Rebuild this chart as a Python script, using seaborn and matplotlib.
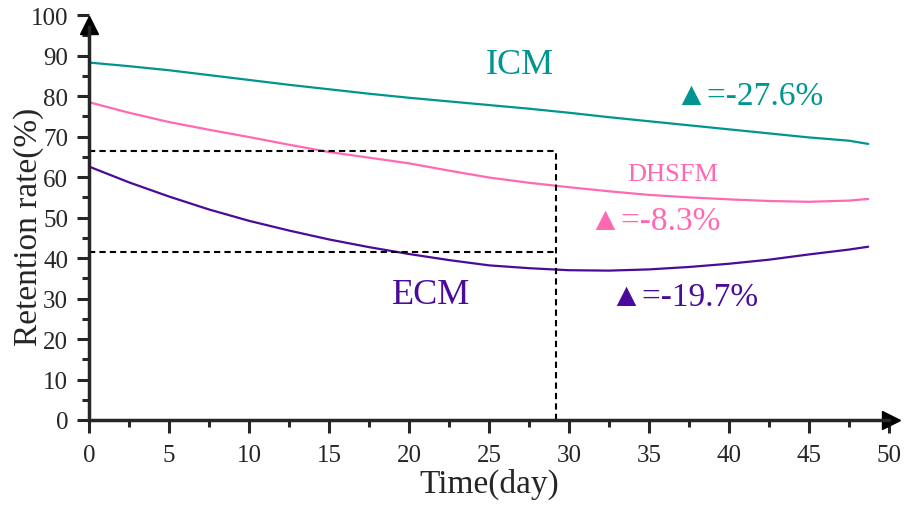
import seaborn as sns
import matplotlib.pyplot as plt

# data
days = [0, 2.5, 5, 7.5, 10, 12.5, 15, 17.5, 20, 22.5, 25, 27.5, 30, 32.5, 35,
        37.5, 40, 42.5, 45, 47.5, 48.7]
icm = [88.3, 87.4, 86.4, 85.2, 84.0, 82.8, 81.7, 80.6, 79.6, 78.7, 77.8, 76.9,
       75.9, 74.8, 73.8, 72.8, 71.8, 70.8, 69.8, 69.0, 68.2]
dhsfm = [78.5, 75.9, 73.6, 71.7, 69.9, 68.0, 66.2, 64.8, 63.4, 61.6, 59.9, 58.6,
         57.5, 56.5, 55.6, 55.0, 54.5, 54.1, 53.9, 54.2, 54.6]
ecm = [62.6, 58.7, 55.2, 52.0, 49.2, 46.8, 44.6, 42.7, 41.0, 39.5, 38.2, 37.5,
       37.0, 36.9, 37.2, 37.8, 38.6, 39.6, 40.9, 42.1, 42.8]

day_mark = 29.2
level_high = 66.5
level_low = 41.5

teal = "#00968f"
pink = "#ff69b4"
purple = "#4a0b9a"

sns.set_style("ticks")
plt.rcParams['font.family'] = ['Liberation Serif', 'DejaVu Sans']

fig = plt.figure(figsize=(9.09, 5.06), dpi=100)
ax = fig.add_axes([0.098, 0.168, 0.88, 0.8])

sns.lineplot(x=days, y=icm, color=teal, lw=1.6, ax=ax)
sns.lineplot(x=days, y=dhsfm, color=pink, lw=1.6, ax=ax)
sns.lineplot(x=days, y=ecm, color=purple, lw=1.6, ax=ax)

# dashed guide lines
ax.plot([0, day_mark], [level_high, level_high], "k--", lw=1.5, dashes=(3, 2))
ax.plot([0, day_mark], [level_low, level_low], "k--", lw=1.5, dashes=(3, 2))
ax.plot([day_mark, day_mark], [0, level_high], "k--", lw=1.5, dashes=(3, 2))

ax.set_xlim(0, 50)
ax.set_ylim(0, 100)
ax.set_xticks(range(0, 51, 5))
ax.set_xticks([2.5 + 5 * i for i in range(10)], minor=True)
ax.set_yticks(range(0, 101, 10))
ax.set_yticks([5 + 10 * i for i in range(10)], minor=True)
ax.tick_params(axis="both", which="major", labelsize=18, length=9, width=2.2, direction="out", pad=6)
ax.tick_params(axis="both", which="minor", length=5, width=2.2, direction="out")
ax.tick_params(axis="x", pad=8)

for s in ["top", "right"]:
    ax.spines[s].set_visible(False)
for s in ["left", "bottom"]:
    ax.spines[s].set_linewidth(2.5)
ax.spines["left"].set_bounds(0, 97)

# arrow heads
ax.plot(1.003, 0, ">k", ms=13, transform=ax.get_yaxis_transform(), clip_on=False)
ax.plot(0, 0.975, "^k", ms=13, transform=ax.get_xaxis_transform(), clip_on=False)

ax.set_xlabel("Time(day)", fontsize=24)
ax.set_ylabel("Retention rate(%)", fontsize=24)
ax.xaxis.set_label_coords(0.5, -0.118)
ax.yaxis.set_label_coords(-0.056, 0.48)

ax.text(26.9, 87.9, "ICM", color=teal, fontsize=26, ha="center", va="center")
ax.text(36.6, 80.0, "▲=-27.6%", color=teal, fontsize=24, ha="left", va="center")
ax.text(36.5, 60.7, "DHSFM", color=pink, fontsize=19, ha="center", va="center")
ax.text(31.2, 49.1, "▲=-8.3%", color=pink, fontsize=24, ha="left", va="center")
ax.text(21.4, 31.1, "ECM", color=purple, fontsize=26, ha="center", va="center")
ax.text(32.5, 30.4, "▲=-19.7%", color=purple, fontsize=24, ha="left", va="center")

fig.savefig("out.png", dpi=100)
